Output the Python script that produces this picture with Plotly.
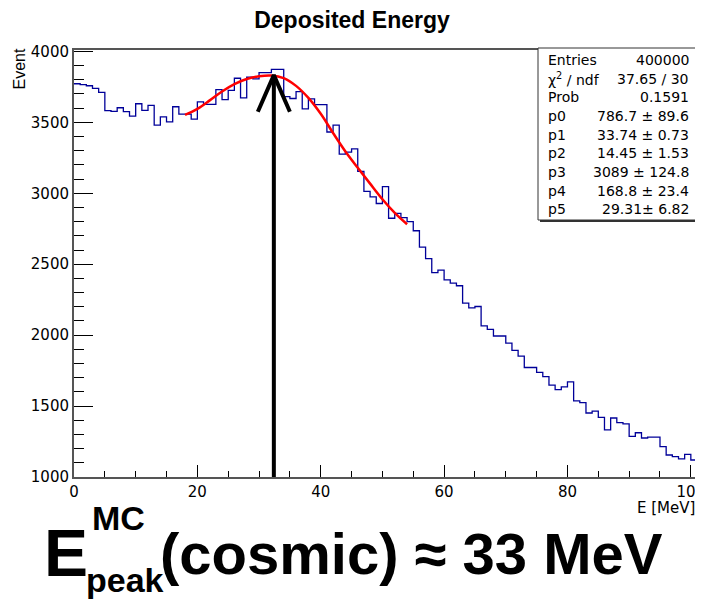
import plotly.graph_objects as go

# histogram: 101 bins of 1 MeV starting at 0
bin_edges = list(range(0, 102))
counts = [
    3772, 3766, 3758, 3740, 3711, 3582, 3577, 3603, 3575, 3544,
    3631, 3584, 3620, 3481, 3539, 3504, 3610, 3558, 3558, 3523,
    3644, 3627, 3627, 3730, 3660, 3725, 3811, 3673, 3818, 3807,
    3851, 3851, 3873, 3873, 3681, 3668, 3716, 3595, 3665, 3625,
    3625, 3432, 3480, 3276, 3290, 3313, 3155, 3013, 2974, 2928,
    3047, 2824, 2859, 2828, 2800, 2736, 2620, 2540, 2441, 2458,
    2390, 2367, 2348, 2226, 2192, 2202, 2066, 2041, 1994, 1994,
    1944, 1892, 1852, 1772, 1772, 1737, 1708, 1648, 1616, 1635,
    1670, 1536, 1524, 1451, 1465, 1420, 1332, 1416, 1383, 1374,
    1287, 1312, 1275, 1281, 1281, 1214, 1155, 1143, 1128, 1159,
    1120,
]

# fitted curve
fit_energy = [18, 20, 22, 24, 26, 28, 30, 32, 34, 36, 38, 40, 42, 44, 46, 48, 50, 52, 54]
fit_value = [3552, 3595, 3655, 3718, 3770, 3806, 3825, 3830, 3812, 3757,
             3672, 3560, 3425, 3295, 3180, 3068, 2958, 2862, 2782]

# arrow marking the peak
peak_energy = 32.4
arrow_tip = 3833
arrow_wing = [29.8, 35.0]
arrow_wing_value = 3575

stats_names = ["Entries", "χ<sup>2</sup> / ndf", "Prob", "p0", "p1", "p2", "p3", "p4", "p5"]
stats_values = ["400000", "37.65 / 30", "0.1591", "786.7 ± 89.6", "33.74 ± 0.73",
                "14.45 ± 1.53", "3089 ± 124.8", "168.8 ± 23.4", "29.31± 6.82"]

# page body has an 8px margin, so the figure is drawn that much smaller
OFF = 8
PAGE_W, PAGE_H = 703, 603
W, H = PAGE_W - OFF, PAGE_H - OFF
# frame in page pixels
L, R, T, B = 74, 697, 50, 477


def px(x):
    return (x - L) / (R - L)


def py(y):
    return (B - y) / (B - T)


fig = go.Figure()

# histogram outline
fig.add_trace(go.Scatter(
    x=bin_edges, y=counts + [counts[-1]],
    mode="lines", line=dict(color="#000099", width=1.3, shape="hv"),
    showlegend=False, hoverinfo="skip"))

# fit
fig.add_trace(go.Scatter(
    x=fit_energy, y=fit_value, mode="lines",
    line=dict(color="#ff0000", width=2.5, shape="spline"),
    showlegend=False))

# arrow shaft and head
fig.add_trace(go.Scatter(
    x=[peak_energy, peak_energy], y=[1000, arrow_tip], mode="lines",
    line=dict(color="black", width=4), showlegend=False))
fig.add_trace(go.Scatter(
    x=[arrow_wing[0], peak_energy, arrow_wing[1]],
    y=[arrow_wing_value, arrow_tip, arrow_wing_value], mode="lines",
    line=dict(color="black", width=4), showlegend=False))

axis_font = dict(family="DejaVu Sans", size=15, color="black")

fig.update_xaxes(
    range=[0, 101], tickvals=[0, 20, 40, 60, 80, 100],
    ticks="inside", ticklen=12, tickcolor="black", tickwidth=1,
    minor=dict(dtick=5, ticks="inside", ticklen=6, tickcolor="black"),
    showline=True, linecolor="#555555", linewidth=2, mirror=True,
    showgrid=False, zeroline=False, tickfont=axis_font,
    ticklabeloverflow="allow", automargin=False)
fig.update_yaxes(
    range=[1000, 4010], tickvals=[1000, 1500, 2000, 2500, 3000, 3500, 4000],
    ticks="inside", ticklen=19, tickcolor="black", tickwidth=1,
    minor=dict(dtick=100, ticks="inside", ticklen=10, tickcolor="black"),
    showline=True, linecolor="#555555", linewidth=2, mirror=True,
    showgrid=False, zeroline=False, tickfont=axis_font, automargin=False)

# stats box with shadow
box = dict(x0=px(538), x1=px(697), y0=py(220), y1=py(48))
fig.add_shape(type="rect", xref="paper", yref="paper",
              x0=box["x0"] + 2 / (R - L), x1=box["x1"] + 2 / (R - L),
              y0=box["y0"] - 2 / (B - T), y1=box["y1"] - 2 / (B - T),
              line=dict(width=0), fillcolor="#333333")
fig.add_shape(type="rect", xref="paper", yref="paper", **box,
              line=dict(color="#333333", width=1), fillcolor="white")

stat_font = dict(family="DejaVu Sans", size=14, color="black")
annotations = []
for i, (name, val) in enumerate(zip(stats_names, stats_values)):
    yc = py(60 + 18.65 * i)
    annotations.append(dict(x=px(546), y=yc, xref="paper", yref="paper", text=name,
                            showarrow=False, xanchor="left", yanchor="middle", font=stat_font))
    annotations.append(dict(x=px(691), y=yc, xref="paper", yref="paper", text=val,
                            showarrow=False, xanchor="right", yanchor="middle", font=stat_font))

# axis titles
annotations.append(dict(x=px(19), y=py(47), xref="paper", yref="paper", text="Event",
                        textangle=-90, showarrow=False, xanchor="center", yanchor="top",
                        font=dict(family="Liberation Sans", size=16, color="black")))
annotations.append(dict(x=px(697), y=py(508), xref="paper", yref="paper", text="E [MeV]",
                        showarrow=False, xanchor="right", yanchor="middle",
                        font=dict(family="DejaVu Sans", size=15, color="black")))

# big label under the plot
big = dict(family="Liberation Sans", size=58, color="black")
small = dict(family="Liberation Sans", size=34, color="black")
annotations.append(dict(x=px(42), y=py(553), xref="paper", yref="paper", text="<b>E</b>",
                        showarrow=False, xanchor="left", yanchor="middle",
                        font=dict(family="Liberation Sans", size=66, color="black")))
annotations.append(dict(x=px(90), y=py(518), xref="paper", yref="paper", text="<b>MC</b>",
                        showarrow=False, xanchor="left", yanchor="middle", font=small))
annotations.append(dict(x=px(84), y=py(580), xref="paper", yref="paper", text="<b>peak</b>",
                        showarrow=False, xanchor="left", yanchor="middle", font=small))
annotations.append(dict(x=px(158), y=py(553), xref="paper", yref="paper",
                        text="<b>(cosmic) ≈ 33 MeV</b>",
                        showarrow=False, xanchor="left", yanchor="middle", font=big))

fig.update_layout(
    width=W, height=H,
    margin=dict(l=L - OFF, r=PAGE_W - R, t=T - OFF, b=PAGE_H - B),
    paper_bgcolor="white", plot_bgcolor="white",
    title=dict(text="<b>Deposited Energy</b>", x=(352 - OFF) / W, xanchor="center",
               y=1 - (20 - OFF) / H, yanchor="middle",
               font=dict(family="Liberation Sans", size=23, color="black")),
    annotations=annotations,
)

fig.write_html("out.html")
